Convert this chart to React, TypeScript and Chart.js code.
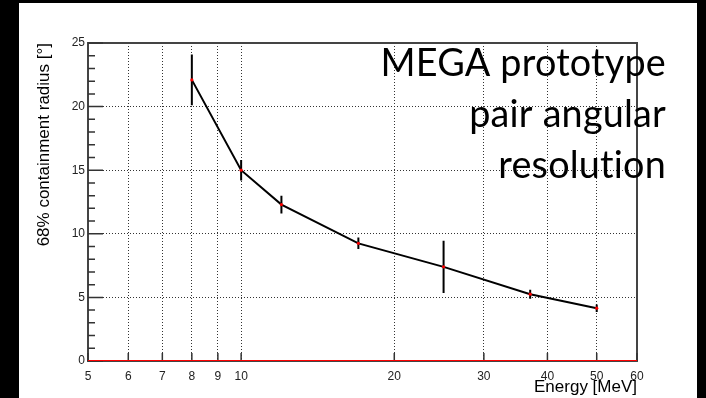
import React, { useEffect, useRef } from "react";
import { Chart, registerables } from "chart.js";
Chart.register(...registerables);

const energies = [8, 10, 12, 17, 25, 37, 50];
const radius = [22.1, 15.0, 12.3, 9.25, 7.4, 5.25, 4.15];
const radiusErr = [2.0, 0.8, 0.7, 0.45, 2.05, 0.35, 0.3];
const xTickValues = [5, 6, 7, 8, 9, 10, 20, 30, 40, 50, 60];
const yTickValues = [0, 5, 10, 15, 20, 25];
const yMinorTickValues = [1, 2, 3, 4, 6, 7, 8, 9, 11, 12, 13, 14, 16, 17, 18, 19, 21, 22, 23, 24];
const baselineX = [5, 60];
const baselineY = [0, 0];
const titleLines = ["MEGA prototype", "pair angular", "resolution"];
const xTitle = "Energy [MeV]";
const yTitle = "68% containment radius [°]";

const W = 706;
const H = 398;

const decor = {
  id: "decor",
  beforeDraw(chart: any) {
    const ctx = chart.ctx;
    ctx.save();
    ctx.fillStyle = "#000";
    ctx.fillRect(0, 0, chart.width, chart.height);
    ctx.fillStyle = "#fff";
    ctx.fillRect(19, 3, 678, 395);
    ctx.restore();
  },
  beforeDatasetsDraw(chart: any) {
    const { ctx, chartArea: a, scales } = chart;
    const xs = scales.x;
    const ys = scales.y;
    ctx.save();
    // frame
    ctx.strokeStyle = "#444";
    ctx.lineWidth = 2;
    ctx.strokeRect(a.left, a.top, a.right - a.left, a.bottom - a.top);
    // inside ticks
    ctx.strokeStyle = "#333";
    ctx.lineWidth = 1.5;
    ctx.beginPath();
    yTickValues.forEach((v) => {
      const py = ys.getPixelForValue(v);
      ctx.moveTo(a.left, py);
      ctx.lineTo(a.left + 15, py);
    });
    yMinorTickValues.forEach((v) => {
      const py = ys.getPixelForValue(v);
      ctx.moveTo(a.left, py);
      ctx.lineTo(a.left + 7, py);
    });
    xTickValues.forEach((v) => {
      const px = xs.getPixelForValue(v);
      ctx.moveTo(px, a.bottom);
      ctx.lineTo(px, a.bottom - 8);
    });
    ctx.stroke();
    // error bars
    ctx.strokeStyle = "#000";
    ctx.lineWidth = 2;
    ctx.beginPath();
    energies.forEach((e, i) => {
      const px = xs.getPixelForValue(e);
      ctx.moveTo(px, ys.getPixelForValue(radius[i] - radiusErr[i]));
      ctx.lineTo(px, ys.getPixelForValue(radius[i] + radiusErr[i]));
    });
    ctx.stroke();
    ctx.restore();
  },
  afterDraw(chart: any) {
    const { ctx, chartArea: a } = chart;
    ctx.save();
    ctx.fillStyle = "#000";
    // axis titles
    ctx.font = '17px "Liberation Sans", Arial, sans-serif';
    ctx.textAlign = "right";
    ctx.textBaseline = "alphabetic";
    ctx.fillText(xTitle, a.right, 392);
    ctx.translate(44, a.top);
    ctx.rotate(-Math.PI / 2);
    ctx.textBaseline = "middle";
    ctx.textAlign = "right";
    ctx.fillText(yTitle, 0, 0);
    ctx.setTransform(1, 0, 0, 1, 0, 0);
    // overlay title
    const fam = 'Lato, "Open Sans", sans-serif';
    try {
      (ctx as any).letterSpacing = "0.2px";
    } catch (e) {}
    ctx.font = `34px ${fam}`;
    const w = ctx.measureText(titleLines[0]).width;
    const size = (34 * 286) / w;
    ctx.font = `${size}px ${fam}`;
    ctx.textAlign = "right";
    ctx.textBaseline = "alphabetic";
    const baselines = [76, 127, 178];
    titleLines.forEach((t, i) => ctx.fillText(t, 666, baselines[i]));
    ctx.restore();
  },
};

export default function App() {
  const ref = useRef<HTMLCanvasElement | null>(null);
  useEffect(() => {
    const canvas = ref.current;
    if (!canvas) return;
    const gridColor = "#333";
    const chart = new Chart(canvas, {
      type: "line",
      data: {
        datasets: [
          {
            data: baselineX.map((x, i) => ({ x, y: baselineY[i] })),
            borderColor: "#ff0000",
            borderWidth: 2,
            pointRadius: 0,
            order: 2,
          },
          {
            data: energies.map((x, i) => ({ x, y: radius[i] })),
            borderColor: "#000",
            borderWidth: 2,
            pointRadius: 1.6,
            pointBackgroundColor: "#ff0000",
            pointBorderWidth: 0,
            tension: 0,
            order: 1,
          },
        ],
      },
      options: {
        responsive: false,
        animation: false,
        layout: { padding: { top: 43, right: 69, left: 0, bottom: 0 } },
        plugins: { legend: { display: false }, tooltip: { enabled: false } },
        scales: {
          x: {
            type: "logarithmic",
            min: 5,
            max: 60,
            afterBuildTicks: (s: any) => {
              s.ticks = xTickValues.map((v) => ({ value: v }));
            },
            afterFit: (s: any) => {
              s.height = 37;
            },
            ticks: {
              autoSkip: false,
              maxRotation: 0,
              padding: 8,
              color: "#222",
              font: { family: '"Liberation Sans", Arial, sans-serif', size: 12 },
              callback: (v: any) => String(v),
            },
            grid: {
              drawTicks: false,
              color: (c: any) =>
                c.tick && (c.tick.value === 5 || c.tick.value === 60) ? "rgba(0,0,0,0)" : gridColor,
              lineWidth: 1,
            },
            border: { display: false, dash: [1, 2] },
          },
          y: {
            min: 0,
            max: 25,
            afterBuildTicks: (s: any) => {
              s.ticks = yTickValues.map((v) => ({ value: v }));
            },
            afterFit: (s: any) => {
              s.width = 88;
            },
            ticks: {
              padding: 3,
              color: "#222",
              font: { family: '"Liberation Sans", Arial, sans-serif', size: 12 },
              callback: (v: any) => String(v),
            },
            grid: {
              drawTicks: false,
              color: (c: any) =>
                c.tick && (c.tick.value === 0 || c.tick.value === 25) ? "rgba(0,0,0,0)" : gridColor,
              lineWidth: 1,
            },
            border: { display: false, dash: [1, 2] },
          },
        },
      },
      plugins: [decor],
    } as any);
    return () => chart.destroy();
  }, []);
  return (
    <div style={{ position: "fixed", left: 0, top: 0, width: W, height: H }}>
      <canvas ref={ref} width={W} height={H} style={{ display: "block" }} />
    </div>
  );
}
